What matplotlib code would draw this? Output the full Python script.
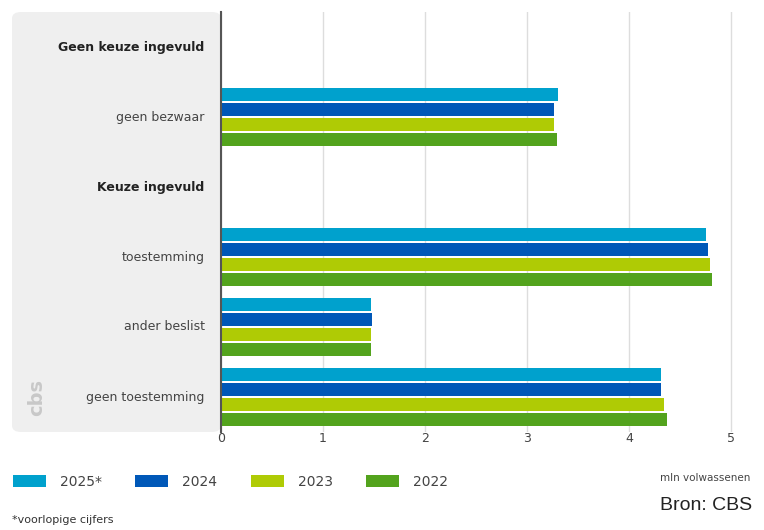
import matplotlib.pyplot as plt
from matplotlib.patches import FancyBboxPatch, Patch

# rijen van boven naar beneden
rijen = ["Geen keuze ingevuld", "geen bezwaar", "Keuze ingevuld",
         "toestemming", "ander beslist", "geen toestemming"]
kopjes = ["Geen keuze ingevuld", "Keuze ingevuld"]

jaren = ["2025*", "2024", "2023", "2022"]
kleuren = ["#00a1cd", "#0058b8", "#afcb05", "#53a31d"]

# mln volwassenen per categorie (kopjes hebben geen balken)
categorieen = ["geen bezwaar", "toestemming", "ander beslist", "geen toestemming"]
waarden_2025 = [3.31, 4.76, 1.47, 4.32]
waarden_2024 = [3.27, 4.78, 1.48, 4.32]
waarden_2023 = [3.27, 4.80, 1.47, 4.34]
waarden_2022 = [3.30, 4.82, 1.47, 4.37]
reeksen = [waarden_2025, waarden_2024, waarden_2023, waarden_2022]

W, H = 764, 530
fig = plt.figure(figsize=(W / 100, H / 100), dpi=100)

# grijs paneel achter de labels
paneel = FancyBboxPatch((12 / W, 1 - 432 / H), (221 - 12) / W, (432 - 12) / H,
                        boxstyle="round,pad=0,rounding_size=0.012",
                        transform=fig.transFigure, facecolor="#efefef",
                        edgecolor="none", zorder=-1)
fig.patches.append(paneel)

ax = fig.add_axes([221 / W, 1 - 432 / H, 520 / W, 420 / H])
ax.set_facecolor("none")

bar_h = 0.19
stap = 0.215
for j, (jaar, kleur, waarden) in enumerate(zip(jaren, kleuren, reeksen)):
    ys = [rijen.index(c) + (j - 1.5) * stap for c in categorieen]
    ax.barh(ys, waarden, height=bar_h, color=kleur, label=jaar, zorder=3)

ax.set_ylim(5.5, -0.5)
ax.set_xlim(0, 5.1)
ax.set_xticks([0, 1, 2, 3, 4, 5])
ax.grid(axis="x", color="#dddddd", linewidth=1, zorder=0)
ax.tick_params(axis="x", length=0, pad=0, labelsize=9, labelcolor="#444444")
ax.set_yticks([])
for s in ["top", "right", "bottom"]:
    ax.spines[s].set_visible(False)
ax.spines["left"].set_color("#555555")
ax.spines["left"].set_linewidth(1.5)
ax.spines["left"].set_zorder(4)

for i, r in enumerate(rijen):
    vet = r in kopjes
    ax.text(-0.16, i, r, ha="right", va="center", fontsize=9,
            fontweight="bold" if vet else "normal",
            color="#222222" if vet else "#444444", zorder=5)

# logo (vereenvoudigd)
fig.text(37 / W, 1 - 397 / H, "cbs", rotation=90, ha="center", va="center",
         fontsize=14, fontweight="bold", color="#c8c8c8")

# legenda
handles = [Patch(facecolor=k, edgecolor="none") for k in kleuren]
fig.legend(handles, jaren, loc="center left", bbox_to_anchor=(0.0, 1 - 482 / H),
           ncol=4, frameon=False, fontsize=10, handlelength=2.4, handleheight=0.9,
           columnspacing=2.4, handletextpad=1.0, labelcolor="#444444")

fig.text(750 / W, 1 - 478 / H, "mln volwassenen", ha="right", va="center",
         fontsize=7.5, color="#444444")
fig.text(752 / W, 1 - 505 / H, "Bron: CBS", ha="right", va="center",
         fontsize=14, color="#222222", family=["Liberation Sans", "DejaVu Sans"])
fig.text(12 / W, 1 - 520 / H, "*voorlopige cijfers", ha="left", va="center",
         fontsize=8, color="#333333")

fig.savefig("out.png", dpi=100)
